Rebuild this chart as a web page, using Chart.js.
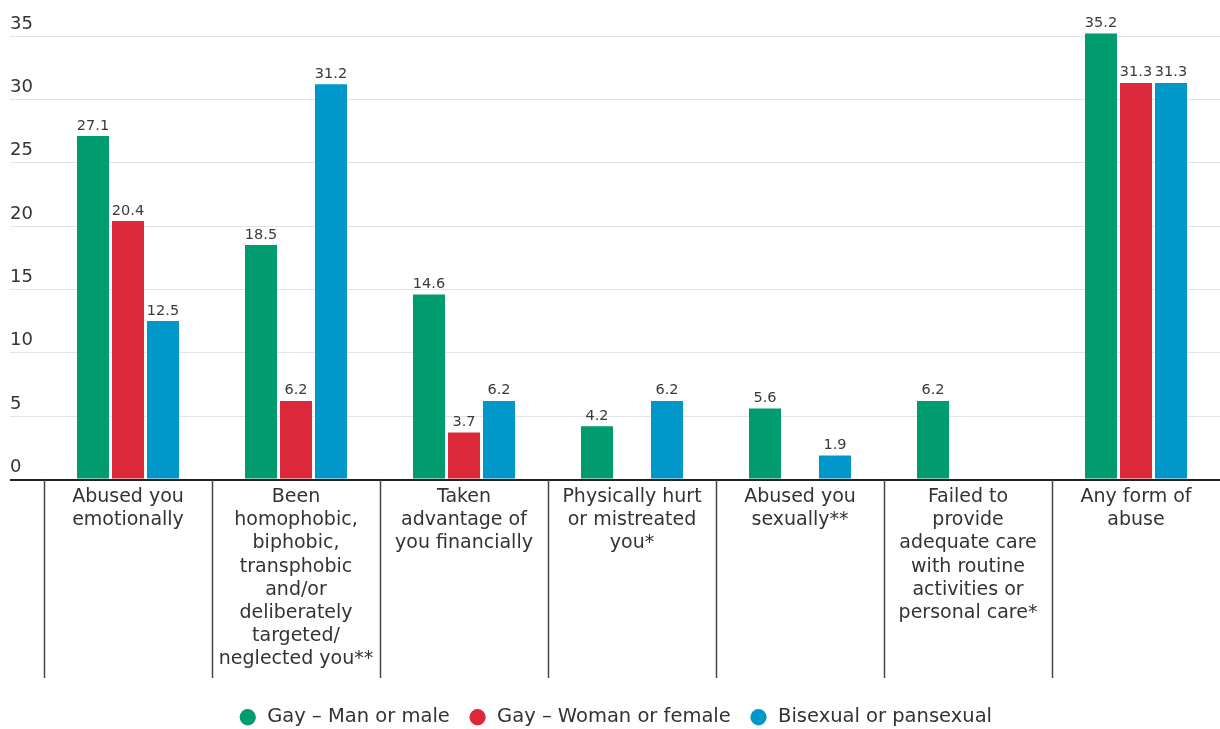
<!DOCTYPE html>
<html>
<head>
<meta charset="utf-8">
<script src="https://cdn.jsdelivr.net/npm/chart.js@4/dist/chart.umd.min.js"></script>
<style>
  html, body { margin: 0; padding: 0; background: #fff; overflow: hidden; }
  #wrap { width: 1220px; height: 737px; position: relative; }
</style>
</head>
<body>
<div id="wrap"><canvas id="abuseChart"></canvas></div>
<script>
// categories (multi-line labels) and the three series
const categories = [
  ['Abused you', 'emotionally'],
  ['Been', 'homophobic,', 'biphobic,', 'transphobic', 'and/or', 'deliberately', 'targeted/', 'neglected you**'],
  ['Taken', 'advantage of', 'you financially'],
  ['Physically hurt', 'or mistreated', 'you*'],
  ['Abused you', 'sexually**'],
  ['Failed to', 'provide', 'adequate care', 'with routine', 'activities or', 'personal care*'],
  ['Any form of', 'abuse']
];
const seriesNames = ['Gay \u2013 Man or male', 'Gay \u2013 Woman or female', 'Bisexual or pansexual'];
const gayMale = [27.1, 18.5, 14.6, 4.2, 5.6, 6.2, 35.2];
const gayFemale = [20.4, 6.2, 3.7, null, null, null, 31.3];
const bisexual = [12.5, 31.2, 6.2, 6.2, 1.9, null, 31.3];
const yTicks = [0, 5, 10, 15, 20, 25, 30, 35];

const colors = ['#009b6e', '#dc283b', '#0098ca'];
const FONT = 'DejaVu Sans';

// value labels above each bar
const barValues = {
  id: 'barValues',
  afterDatasetsDraw(chart) {
    const ctx = chart.ctx;
    ctx.save();
    ctx.font = '14.5px "' + FONT + '"';
    ctx.fillStyle = '#3a3a3a';
    ctx.textAlign = 'center';
    ctx.textBaseline = 'bottom';
    chart.data.datasets.forEach((ds, i) => {
      chart.getDatasetMeta(i).data.forEach((bar, j) => {
        const v = ds.data[j];
        if (v === null || v === undefined) return;
        ctx.fillText(v.toFixed(1), bar.x, bar.y - 3);
      });
    });
    ctx.restore();
  }
};

// vertical rules between the category labels
const categoryRules = {
  id: 'categoryRules',
  afterDraw(chart) {
    const x = chart.scales.x;
    const ctx = chart.ctx;
    const top = chart.chartArea.bottom;
    ctx.save();
    ctx.strokeStyle = '#444';
    ctx.lineWidth = 1.5;
    for (let i = 0; i < categories.length; i++) {
      const px = Math.round(x.getPixelForValue(i - 0.5)) + 0.5;
      ctx.beginPath();
      ctx.moveTo(px, top);
      ctx.lineTo(px, 678);
      ctx.stroke();
    }
    ctx.restore();
  }
};

const data = {
  labels: categories,
  datasets: [gayMale, gayFemale, bisexual].map((vals, i) => ({
    label: seriesNames[i],
    data: vals,
    backgroundColor: colors[i],
    borderWidth: 0,
    categoryPercentage: 0.625,
    barPercentage: 0.915,
    clip: false
  }))
};

new Chart(document.getElementById('abuseChart'), {
  type: 'bar',
  data,
  plugins: [barValues, categoryRules],
  options: {
    responsive: true,
    maintainAspectRatio: false,
    animation: false,
    layout: { padding: { top: 36, left: 10, right: 0, bottom: 0 } },
    plugins: {
      tooltip: { enabled: false },
      legend: {
        position: 'bottom',
        labels: {
          usePointStyle: true,
          pointStyle: 'circle',
          boxHeight: 11.5,
          padding: 18,
          color: '#333',
          font: { family: FONT, size: 19.5 }
        }
      }
    },
    scales: {
      x: {
        grid: { display: false, drawTicks: false },
        border: { display: false },
        ticks: {
          color: '#333',
          padding: 6,
          maxRotation: 0,
          autoSkip: false,
          font: { family: FONT, size: 19, lineHeight: 1.22 }
        },
        afterFit(scale) { scale.height = 210; }
      },
      y: {
        min: 0,
        max: 35,
        afterBuildTicks(scale) { scale.ticks = yTicks.map(v => ({ value: v })); },
        border: { display: false },
        grid: {
          color: c => c.tick && c.tick.value === 0 ? '#222' : '#e4e4e4',
          lineWidth: c => c.tick && c.tick.value === 0 ? 2 : 1,
          tickLength: 34
        },
        ticks: {
          crossAlign: 'far',
          labelOffset: -12,
          color: '#333',
          font: { family: FONT, size: 18 }
        },
        afterFit(scale) { scale.width = 34; }
      }
    }
  }
});
</script>
</body>
</html>
